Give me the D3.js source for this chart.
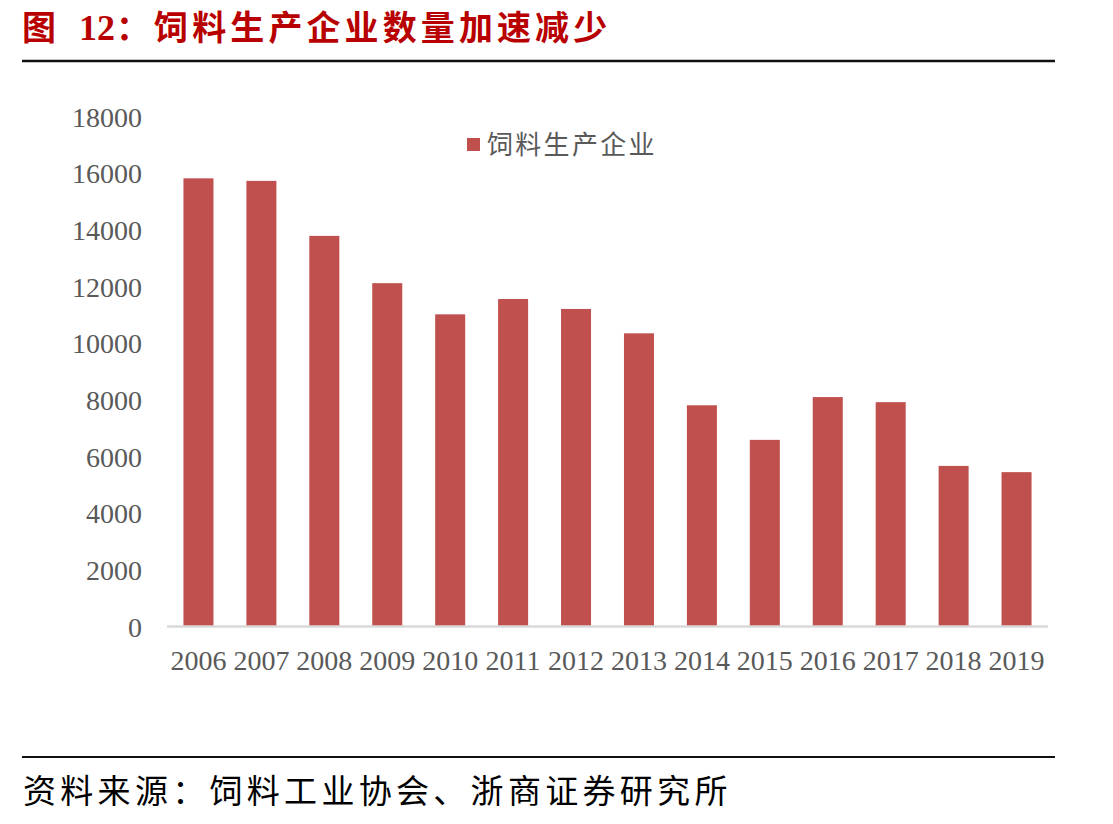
<!DOCTYPE html>
<html>
<head>
<meta charset="utf-8">
<script src="https://cdn.jsdelivr.net/npm/d3@7/dist/d3.min.js"></script>
<style>
  html, body { margin: 0; padding: 0; background: #fff; }
  svg { display: block; }
</style>
</head>
<body>
<svg id="chart" width="1113" height="824"></svg>
<script>
const titlePrefix = "图";
const titleNumber = "12";
const titleText = "：饲料生产企业数量加速减少";
const seriesName = "饲料生产企业";
const sourceText = "资料来源：饲料工业协会、浙商证券研究所";
const years = ["2006","2007","2008","2009","2010","2011","2012","2013","2014","2015","2016","2017","2018","2019"];
const enterprises = [15800, 15710, 13770, 12100, 11000, 11540, 11190, 10330, 7790, 6570, 8080, 7900, 5650, 5430];
const yTicks = [0, 2000, 4000, 6000, 8000, 10000, 12000, 14000, 16000, 18000];

const svg = d3.select("#chart");
const serif = "'Liberation Serif', 'Times New Roman', serif";
const cjk = "'Noto Sans CJK SC', sans-serif";
const red = "#b80000";
const barColor = "#c0504d";
const textGray = "#595959";

// Title
const title = svg.append("text").attr("y", 40).attr("fill", red).attr("font-weight", "bold");
title.append("tspan").attr("x", 22).attr("font-family", cjk).attr("font-size", 34).text(titlePrefix);
title.append("tspan").attr("x", 79).attr("font-family", serif).attr("font-size", 36).text(titleNumber);
title.append("tspan").attr("x", 116).attr("font-family", cjk).attr("font-size", 34)
  .attr("letter-spacing", 4.1).text(titleText);

svg.append("line").attr("x1", 22).attr("x2", 1055).attr("y1", 61).attr("y2", 61)
  .attr("stroke", "#111").attr("stroke-width", 2.5);

// Scales
const x = d3.scaleBand().domain(years).range([167, 1048]).paddingInner(0.523).paddingOuter(0.2615);
const y = d3.scaleLinear().domain([0, 18000]).range([626, 116]);

// Bars
svg.append("g").selectAll("rect").data(years).join("rect")
  .attr("x", d => x(d))
  .attr("width", x.bandwidth())
  .attr("y", (d, i) => y(enterprises[i]))
  .attr("height", (d, i) => y(0) - y(enterprises[i]))
  .attr("fill", barColor);

// Baseline
svg.append("line").attr("x1", x.range()[0]).attr("x2", x.range()[1])
  .attr("y1", y(0) + 0.5).attr("y2", y(0) + 0.5)
  .attr("stroke", "#d9d9d9").attr("stroke-width", 2.5);

// Y axis
const yAxis = svg.append("g").attr("transform", "translate(150,0)")
  .call(d3.axisLeft(y).tickValues(yTicks).tickSize(0).tickPadding(8).tickFormat(d3.format("d")));
yAxis.select(".domain").remove();
yAxis.selectAll("text").attr("font-family", serif).attr("font-size", 28).attr("fill", textGray).attr("dy", "0.36em");

// X axis
const xAxis = svg.append("g").attr("transform", `translate(0,${y(0)})`)
  .call(d3.axisBottom(x).tickSize(0).tickPadding(24));
xAxis.select(".domain").remove();
xAxis.selectAll("text").attr("font-family", serif).attr("font-size", 28).attr("fill", textGray).attr("dy", "0.71em");

// Legend
svg.append("rect").attr("x", 467).attr("y", 138).attr("width", 13).attr("height", 13).attr("fill", barColor);
svg.append("text").attr("x", 487).attr("y", 154).attr("font-family", cjk).attr("font-size", 26)
  .attr("letter-spacing", 2.3).attr("fill", textGray).text(seriesName);

// Footer
svg.append("line").attr("x1", 22).attr("x2", 1055).attr("y1", 757).attr("y2", 757)
  .attr("stroke", "#111").attr("stroke-width", 2);
svg.append("text").attr("x", 23).attr("y", 803).attr("font-family", cjk).attr("font-size", 33)
  .attr("letter-spacing", 4.3).attr("fill", "#000").text(sourceText);
</script>
</body>
</html>
